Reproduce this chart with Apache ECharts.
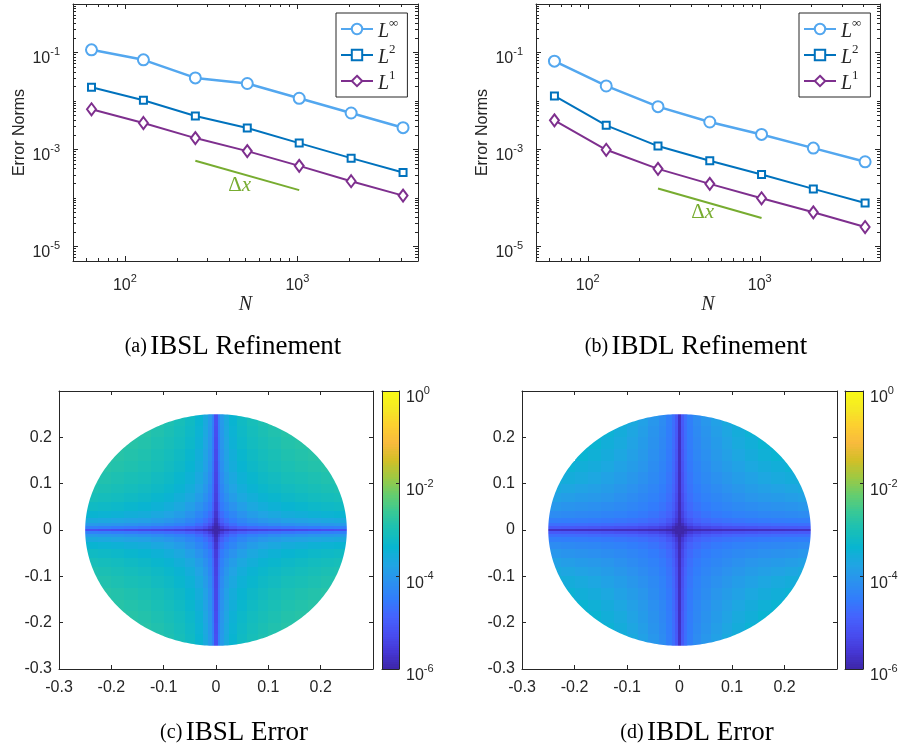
<!DOCTYPE html>
<html><head><meta charset="utf-8">
<script src="https://cdn.jsdelivr.net/npm/echarts@6/dist/echarts.min.js"></script>
<style>html,body{margin:0;padding:0;background:#fff}#c{width:902px;height:750px}</style>
</head><body><div id="c"></div>
<script>
// ---------------- data ----------------
const N = [64, 128, 256, 512, 1024, 2048, 4096];
const ibslLinf = [0.1135, 0.0705, 0.0299, 0.0229, 0.01135, 0.00565, 0.00281];
const ibslL2   = [0.0192, 0.01032, 0.0049, 0.00276, 0.00135, 0.000662, 0.000334];
const ibslL1   = [0.00673, 0.00351, 0.001715, 0.000924, 0.000459, 0.000221, 0.0001116];
const ibdlLinf = [0.0662, 0.0204, 0.00763, 0.00368, 0.00204, 0.001066, 0.000556];
const ibdlL2   = [0.01268, 0.00314, 0.001173, 0.000583, 0.000304, 0.0001535, 0.0000788];
const ibdlL1   = [0.00398, 0.000985, 0.000398, 0.000195, 0.0000984, 0.0000505, 0.0000251];
const dxN = [256, 1024];
const ibslDx = [5.83e-4, 1.45e-4];
const ibdlDx = [1.56e-4, 3.85e-5];
const xMajorTicks = [100, 1000];
const yMajorTicks = [1e-5, 1e-3, 1e-1];
const fieldTicks = [-0.3, -0.2, -0.1, 0, 0.1, 0.2, 0.3];
const fieldLabels = [-0.3, -0.2, -0.1, 0, 0.1, 0.2];
const cbarTicks = [-6, -4, -2, 0];
const diskRadius = 0.25;
// quadrant cell edges (|x| or |y|); values are log10(error) per cell, rows = |y| bands
const cellEdges = [0, 0.003, 0.008, 0.015, 0.025, 0.04, 0.06, 0.08, 0.1, 0.125, 0.15, 0.175, 0.2, 0.225, 0.25];
const ibslErr = [
  [-6,-6,-5.92,-5.8,-5.68,-5.56,-5.48,-5.43,-5.39,-5.36,-5.32,-5.28,-5.25,-5.22],
  [-6,-5.85,-5.55,-5.28,-5.08,-4.92,-4.8,-4.72,-4.66,-4.6,-4.55,-4.5,-4.45,-4.41],
  [-5.92,-5.55,-5.2,-4.95,-4.72,-4.52,-4.4,-4.3,-4.22,-4.14,-4.09,-4.04,-4.0,-3.96],
  [-5.8,-5.28,-4.95,-4.7,-4.5,-4.3,-4.14,-4.02,-3.92,-3.83,-3.78,-3.73,-3.69,-3.65],
  [-5.68,-5.08,-4.72,-4.5,-4.3,-4.09,-3.9,-3.77,-3.67,-3.58,-3.53,-3.47,-3.43,-3.39],
  [-5.56,-4.92,-4.52,-4.3,-4.09,-3.86,-3.68,-3.57,-3.47,-3.39,-3.33,-3.27,-3.23,-3.19],
  [-5.48,-4.8,-4.4,-4.14,-3.9,-3.68,-3.54,-3.42,-3.33,-3.25,-3.19,-3.13,-3.08,-3.04],
  [-5.43,-4.72,-4.3,-4.02,-3.77,-3.57,-3.42,-3.31,-3.22,-3.14,-3.08,-3.03,-2.98,-2.94],
  [-5.39,-4.66,-4.22,-3.92,-3.67,-3.47,-3.33,-3.22,-3.14,-3.05,-3.0,-2.95,-2.9,-2.85],
  [-5.36,-4.6,-4.14,-3.83,-3.58,-3.39,-3.25,-3.14,-3.05,-2.97,-2.92,-2.87,-2.83],
  [-5.32,-4.55,-4.09,-3.78,-3.53,-3.33,-3.19,-3.08,-3.0,-2.92,-2.87,-2.82],
  [-5.28,-4.5,-4.04,-3.73,-3.47,-3.27,-3.13,-3.03,-2.95,-2.87,-2.82,-2.77],
  [-5.25,-4.45,-4.0,-3.69,-3.43,-3.23,-3.08,-2.98,-2.9,-2.83],
  [-5.22,-4.41,-3.96,-3.65,-3.39,-3.19,-3.04,-2.94,-2.85]
];
const ibdlErr = [
  [-6,-6,-6,-5.95,-5.9,-5.86,-5.83,-5.81,-5.8,-5.79,-5.78,-5.77,-5.76,-5.75],
  [-6,-6,-5.85,-5.6,-5.45,-5.35,-5.28,-5.22,-5.18,-5.14,-5.1,-5.07,-5.05,-5.03],
  [-6,-5.85,-5.55,-5.3,-5.12,-5.0,-4.92,-4.86,-4.82,-4.78,-4.75,-4.73,-4.71,-4.69],
  [-5.95,-5.6,-5.3,-5.08,-4.9,-4.78,-4.7,-4.64,-4.59,-4.54,-4.51,-4.48,-4.46,-4.44],
  [-5.9,-5.45,-5.12,-4.9,-4.75,-4.62,-4.53,-4.46,-4.4,-4.35,-4.31,-4.28,-4.25,-4.22],
  [-5.86,-5.35,-5.0,-4.78,-4.62,-4.5,-4.4,-4.32,-4.25,-4.19,-4.14,-4.1,-4.06,-4.02],
  [-5.83,-5.28,-4.92,-4.7,-4.53,-4.4,-4.3,-4.21,-4.12,-4.04,-3.98,-3.93,-3.88,-3.83],
  [-5.81,-5.22,-4.86,-4.64,-4.46,-4.32,-4.21,-4.11,-4.01,-3.92,-3.84,-3.78,-3.72,-3.66],
  [-5.8,-5.18,-4.82,-4.59,-4.4,-4.25,-4.12,-4.01,-3.9,-3.8,-3.71,-3.64,-3.58,-3.51],
  [-5.79,-5.14,-4.78,-4.54,-4.35,-4.19,-4.04,-3.92,-3.8,-3.69,-3.6,-3.53,-3.45],
  [-5.78,-5.1,-4.75,-4.51,-4.31,-4.14,-3.98,-3.84,-3.71,-3.6,-3.5,-3.41],
  [-5.77,-5.07,-4.73,-4.48,-4.28,-4.1,-3.93,-3.78,-3.64,-3.53,-3.41,-3.32],
  [-5.76,-5.05,-4.71,-4.46,-4.25,-4.06,-3.88,-3.72,-3.58,-3.45],
  [-5.75,-5.03,-4.69,-4.44,-4.22,-4.02,-3.83,-3.66,-3.51]
];
// annotation anchors (data coordinates) for the "Δx" labels
const dxLabelA = [463, 1.8e-4];
const dxLabelB = [466, 4.9e-5];

// ---------------- styling ----------------
const AX = '#262626';
const SANS = 'Liberation Sans';
const SERIF = 'Liberation Serif';
const cLinf = '#53A7EF', cL2 = '#0072BD', cL1 = '#7E2F8E', cDx = '#77AC30';
const parula = ['#3E26A8','#4537D5','#484DF0','#4563FD','#327CFC','#2B91EF','#20A5E3','#08B5D0','#19BFB6','#37C897','#64CD6F','#9DC943','#D1BF27','#F8BA3D','#FCCF30','#F5E924','#F9FB15'];

const supRich = {
  b: {fontFamily: SANS, fontSize: 16, color: AX, lineHeight: 16, padding: [6, 0, 0, 0]},
  s: {fontFamily: SANS, fontSize: 11, color: AX, lineHeight: 12, padding: [0, 0, 8, 0]}
};
function powLabel(v) { return '{b|10}{s|' + Math.round(Math.log10(v)) + '}'; }
function expLabel(v) { return '{b|10}{s|' + Math.round(v) + '}'; }

function logMinor(lo, hi, majors) {
  const out = [];
  for (let e = Math.floor(Math.log10(lo)); e <= Math.ceil(Math.log10(hi)); e++) {
    for (let k = 1; k < 10; k++) {
      const v = k * Math.pow(10, e);
      if (v > lo * 1.0001 && v < hi * 0.9999 && !majors.some(m => Math.abs(m - v) / m < 1e-6)) out.push(v);
    }
  }
  return out;
}
const X_MIN = 50, X_MAX = 5000, Y_MIN = 5e-6, Y_MAX = 1;
const xMinorTicks = logMinor(X_MIN, X_MAX, xMajorTicks);
const yMinorTicks = logMinor(Y_MIN, Y_MAX, yMajorTicks);

const grids = [
  {left: 73, top: 4, width: 345, height: 257},
  {left: 536, top: 4, width: 344, height: 257},
  {left: 59, top: 391, width: 314, height: 278},
  {left: 522, top: 391, width: 315, height: 278},
  {left: 382, top: 391, width: 17, height: 278},
  {left: 845, top: 391, width: 18, height: 278}
];

const xAxes = [], yAxes = [];
function logAxesFor(gi) {
  const base = {type: 'log', logBase: 10, gridIndex: gi, splitLine: {show: false}, z: 5};
  const xb = Object.assign({}, base, {min: X_MIN, max: X_MAX});
  const yb = Object.assign({}, base, {min: Y_MIN, max: Y_MAX});
  xAxes.push(Object.assign({}, xb, {position: 'bottom',
    axisLine: {show: true, lineStyle: {color: AX, width: 1}},
    axisTick: {show: true, inside: true, length: 5, customValues: xMajorTicks, lineStyle: {color: AX}},
    axisLabel: {show: true, customValues: xMajorTicks, formatter: powLabel, margin: 14, rich: supRich},
    name: 'N', nameLocation: 'middle', nameGap: 34,
    nameTextStyle: {fontFamily: SERIF, fontStyle: 'italic', fontSize: 20, color: AX}}));
  xAxes.push(Object.assign({}, xb, {position: 'bottom', axisLine: {show: false},
    axisTick: {show: true, inside: true, length: 3, customValues: xMinorTicks, lineStyle: {color: AX}},
    axisLabel: {show: false}}));
  xAxes.push(Object.assign({}, xb, {position: 'top', axisLine: {show: true, lineStyle: {color: AX, width: 1}},
    axisTick: {show: true, inside: true, length: 5, customValues: xMajorTicks, lineStyle: {color: AX}},
    axisLabel: {show: false}}));
  xAxes.push(Object.assign({}, xb, {position: 'top', axisLine: {show: false},
    axisTick: {show: true, inside: true, length: 3, customValues: xMinorTicks, lineStyle: {color: AX}},
    axisLabel: {show: false}}));
  yAxes.push(Object.assign({}, yb, {position: 'left',
    axisLine: {show: true, lineStyle: {color: AX, width: 1}},
    axisTick: {show: true, inside: true, length: 5, customValues: yMajorTicks, lineStyle: {color: AX}},
    axisLabel: {show: true, customValues: yMajorTicks, formatter: powLabel, margin: 13, padding: [7, 0, 0, 0], rich: supRich},
    name: 'Error Norms', nameLocation: 'middle', nameGap: 45,
    nameTextStyle: {fontFamily: SANS, fontSize: 16, color: AX}}));
  yAxes.push(Object.assign({}, yb, {position: 'left', axisLine: {show: false},
    axisTick: {show: true, inside: true, length: 3, customValues: yMinorTicks, lineStyle: {color: AX}},
    axisLabel: {show: false}}));
  yAxes.push(Object.assign({}, yb, {position: 'right', axisLine: {show: true, lineStyle: {color: AX, width: 1}},
    axisTick: {show: true, inside: true, length: 5, customValues: yMajorTicks, lineStyle: {color: AX}},
    axisLabel: {show: false}}));
  yAxes.push(Object.assign({}, yb, {position: 'right', axisLine: {show: false},
    axisTick: {show: true, inside: true, length: 3, customValues: yMinorTicks, lineStyle: {color: AX}},
    axisLabel: {show: false}}));
}
logAxesFor(0); // x/y indices 0-3
logAxesFor(1); // x/y indices 4-7

const fieldLabelStyle = {fontFamily: SANS, fontSize: 16, color: AX};
function fieldAxesFor(gi) {
  const base = {type: 'value', gridIndex: gi, min: -0.3, max: 0.3, splitLine: {show: false}, z: 5,
    axisLine: {show: true, onZero: false, lineStyle: {color: AX, width: 1}}};
  const tick = {show: true, inside: true, length: 4, customValues: fieldTicks, lineStyle: {color: AX}};
  const fmt = v => (Math.abs(v) < 1e-9 ? '0' : v.toFixed(1));
  xAxes.push(Object.assign({}, base, {position: 'bottom', axisTick: tick,
    axisLabel: Object.assign({show: true, customValues: fieldLabels, formatter: fmt, margin: 11}, fieldLabelStyle)}));
  xAxes.push(Object.assign({}, base, {position: 'top', axisTick: tick, axisLabel: {show: false}}));
  yAxes.push(Object.assign({}, base, {position: 'left', axisTick: tick,
    axisLabel: Object.assign({show: true, customValues: fieldLabels, formatter: fmt, margin: 7}, fieldLabelStyle)}));
  yAxes.push(Object.assign({}, base, {position: 'right', axisTick: tick, axisLabel: {show: false}}));
}
fieldAxesFor(2); // 8-9
fieldAxesFor(3); // 10-11

function cbarAxesFor(gi) {
  const line = {show: true, onZero: false, lineStyle: {color: AX, width: 1}};
  xAxes.push({type: 'value', gridIndex: gi, min: 0, max: 1, position: 'bottom', axisLine: line, axisTick: {show: false}, axisLabel: {show: false}, splitLine: {show: false}, z: 10});
  xAxes.push({type: 'value', gridIndex: gi, min: 0, max: 1, position: 'top', axisLine: line, axisTick: {show: false}, axisLabel: {show: false}, splitLine: {show: false}, z: 10});
  yAxes.push({type: 'value', gridIndex: gi, min: -6, max: 0, position: 'left', axisLine: line, axisTick: {show: false}, axisLabel: {show: false}, splitLine: {show: false}, z: 10});
  yAxes.push({type: 'value', gridIndex: gi, min: -6, max: 0, position: 'right', axisLine: line,
    axisTick: {show: true, inside: true, length: 3, customValues: cbarTicks, lineStyle: {color: AX}},
    axisLabel: {show: true, customValues: cbarTicks, formatter: expLabel, margin: 7, padding: [8, 0, 0, 0], rich: supRich},
    splitLine: {show: false}, z: 10});
}
cbarAxesFor(4); // 12-13
cbarAxesFor(5); // 14-15

// ---------------- series ----------------
function pairs(xs, ys) { return xs.map((x, k) => [x, ys[k]]); }
function lineSeries(name, xi, ys, color, symbol, size, width) {
  return {type: 'line', name: name, xAxisIndex: xi, yAxisIndex: xi, data: pairs(N, ys),
    symbol: symbol, symbolSize: size, showAllSymbol: true,
    lineStyle: {color: color, width: width}, itemStyle: {color: color, borderColor: color, borderWidth: width},
    emphasis: {disabled: true}, z: 3};
}
function dxSeries(xi, ys, anchor) {
  return {type: 'line', name: 'dx' + xi, xAxisIndex: xi, yAxisIndex: xi, data: pairs(dxN, ys), symbol: 'none',
    lineStyle: {color: cDx, width: 2}, z: 2, emphasis: {disabled: true},
    markPoint: {symbol: 'circle', symbolSize: 1, itemStyle: {color: 'rgba(0,0,0,0)'}, silent: true,
      label: {show: true, position: 'inside', formatter: '{d|Δ}{x|x}',
        rich: {d: {fontFamily: SERIF, fontSize: 21, color: cDx}, x: {fontFamily: SERIF, fontStyle: 'italic', fontSize: 21, color: cDx}}},
      data: [{coord: anchor}]}};
}

function buildField(grid) {
  const out = [];
  [[1, 1], [-1, 1], [-1, -1], [1, -1]].forEach(([sx, sy]) => {
    grid.forEach((row, j) => row.forEach((v, i) => {
      out.push([sx * cellEdges[i], sy * cellEdges[j], v, sx * cellEdges[i + 1], sy * cellEdges[j + 1]]);
    }));
  });
  return out;
}
const cbarData = [];
for (let k = 0; k < 120; k++) { const a = -6 + k * 0.05; cbarData.push([0, a, a + 0.025, 1, a + 0.05]); }

function cellItem(params, api) {
  const a = api.coord([api.value(0), api.value(1)]);
  const b = api.coord([api.value(3), api.value(4)]);
  const x0 = Math.round(Math.min(a[0], b[0])), x1 = Math.round(Math.max(a[0], b[0]));
  const y0 = Math.round(Math.min(a[1], b[1])), y1 = Math.round(Math.max(a[1], b[1]));
  return {type: 'rect', shape: {x: x0, y: y0, width: x1 - x0, height: y1 - y0}, style: {fill: api.visual('color')}};
}
// white annulus outside the disk (radius diskRadius .. maskOuter) so the cell grid ends on the circle
const maskOuter = 0.29;
function ringItem(params, api) {
  const pts = [];
  const M = 360;
  for (let k = 0; k <= M; k++) { const t = k / M * 2 * Math.PI; pts.push(api.coord([maskOuter * Math.cos(t), maskOuter * Math.sin(t)])); }
  for (let k = M; k >= 0; k--) { const t = k / M * 2 * Math.PI; pts.push(api.coord([diskRadius * Math.cos(t), diskRadius * Math.sin(t)])); }
  return {type: 'polygon', shape: {points: pts}, style: {fill: '#fff', stroke: null}};
}
function customSeries(xi, data) {
  return {type: 'custom', xAxisIndex: xi, yAxisIndex: xi, data: data, renderItem: cellItem, silent: true,
    dimensions: ['x0', 'y0', 'v', 'x1', 'y1'], encode: {x: [0, 3], y: [1, 4]}, clip: true, z: 2};
}
function maskSeries(xi) {
  return {type: 'custom', xAxisIndex: xi, yAxisIndex: xi, data: [[0, 0]], renderItem: ringItem, silent: true, z: 3};
}

const series = [
  lineSeries('aLinf', 0, ibslLinf, cLinf, 'emptyCircle', 11, 2.5),
  lineSeries('aL2', 0, ibslL2, cL2, 'emptyRect', 7, 2),
  lineSeries('aL1', 0, ibslL1, cL1, 'emptyDiamond', [9, 12], 2),
  dxSeries(0, ibslDx, dxLabelA),
  lineSeries('bLinf', 4, ibdlLinf, cLinf, 'emptyCircle', 11, 2.5),
  lineSeries('bL2', 4, ibdlL2, cL2, 'emptyRect', 7, 2),
  lineSeries('bL1', 4, ibdlL1, cL1, 'emptyDiamond', [9, 12], 2),
  dxSeries(4, ibdlDx, dxLabelB),
  customSeries(8, buildField(ibslErr)),   // 8
  maskSeries(8),                          // 9
  customSeries(10, buildField(ibdlErr)),  // 10
  maskSeries(10),                         // 11
  customSeries(12, cbarData),             // 12
  customSeries(14, cbarData)              // 13
];

const legRich = {
  i: {fontFamily: SERIF, fontStyle: 'italic', fontSize: 20, color: AX, lineHeight: 18, padding: [6, 0, 0, 0]},
  s: {fontFamily: SERIF, fontSize: 13, color: AX, lineHeight: 12, padding: [0, 0, 10, 0]}
};
const legMap = {Linf: '{i|L}{s|∞}', L2: '{i|L}{s|2}', L1: '{i|L}{s|1}'};
function legend(prefix, left) {
  return {data: [prefix + 'Linf', prefix + 'L2', prefix + 'L1'], orient: 'vertical', left: left, top: 13,
    itemWidth: 32, itemHeight: 13, itemGap: 0, padding: [3, 9, 3, 4], borderColor: AX, borderWidth: 1,
    backgroundColor: '#fff', selectedMode: false, formatter: n => legMap[n.slice(1)],
    textStyle: {rich: legRich}};
}

function caption(x, y, tag, title) {
  return {type: 'text', x: x, y: y, silent: true, style: {
    text: '{p|' + tag + '} {t|' + title + '}', align: 'center', verticalAlign: 'middle',
    rich: {p: {fontFamily: SERIF, fontSize: 20, fill: '#000'}, t: {fontFamily: SERIF, fontSize: 27, fill: '#000'}}}};
}

const chart = echarts.init(document.getElementById('c'), null, {renderer: 'canvas'});
chart.setOption({
  animation: false,
  backgroundColor: '#fff',
  grid: grids,
  xAxis: xAxes,
  yAxis: yAxes,
  legend: [legend('a', 336), legend('b', 799)],
  visualMap: {type: 'continuous', show: false, min: -6, max: 0, dimension: 2, seriesIndex: [8, 10, 12, 13],
    inRange: {color: parula}},
  series: series,
  graphic: [
    caption(233, 347, '(a)', 'IBSL Refinement'),
    caption(696, 347, '(b)', 'IBDL Refinement'),
    caption(234, 733, '(c)', 'IBSL Error'),
    caption(697, 733, '(d)', 'IBDL Error')
  ]
});
</script>
</body></html>
